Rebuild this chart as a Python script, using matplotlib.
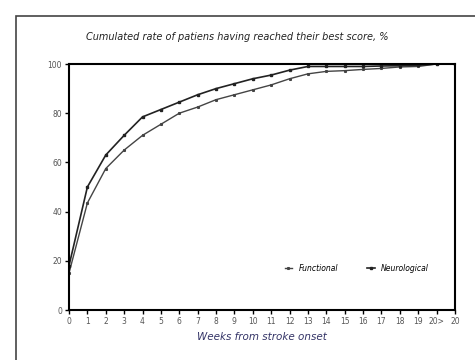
import matplotlib.pyplot as plt
from matplotlib.patches import Rectangle

# weeks from stroke onset (tick positions and labels)
weeks = list(range(22))
week_labels = [str(w) for w in range(20)] + ['20>', '20']

# cumulated rate (%)
neurological = [18, 50, 63, 71, 78.5, 81.5, 84.5, 87.5, 90, 92, 94, 95.5, 97.5, 99, 99, 99, 99, 99.2, 99.3, 99.5, 100, 100]
functional = [15, 43.5, 57.5, 65, 71, 75.5, 80, 82.5, 85.5, 87.5, 89.5, 91.5, 94, 96, 97, 97.3, 97.8, 98.2, 98.8, 99, 100, 100]

plt.rcParams['font.family'] = ['Liberation Sans Narrow', 'DejaVu Sans']

fig = plt.figure(figsize=(4.75, 3.6), dpi=100)
fig.patches.append(Rectangle((16 / 475, -0.05), 1.0, 1 - 16 / 360 + 0.05,
                             transform=fig.transFigure, fill=False,
                             edgecolor='#444444', linewidth=1.2))

ax = fig.add_axes([69 / 475, 50 / 360, 386 / 475, 246 / 360])
ax.plot(weeks, functional, color='#444444', linewidth=1.0,
        marker='s', markersize=1.2, label='Functional')
ax.plot(weeks, neurological, color='#222222', linewidth=1.2,
        marker='s', markersize=1.5, label='Neurological')

ax.set_xlim(0, 21)
ax.set_ylim(0, 100)
ax.set_xticks(weeks)
ax.set_xticklabels(week_labels)
ax.set_yticks([0, 20, 40, 60, 80, 100])
ax.tick_params(direction='out', length=3, width=1, labelsize=5.5,
               labelcolor='#555555', pad=2)
for s in ax.spines.values():
    s.set_linewidth(1.5)

ax.set_xlabel('Weeks from stroke onset', fontsize=7.5, style='italic',
              color='#333366', labelpad=4)
fig.text(0.5, 1 - 37 / 360, 'Cumulated rate of patiens having reached their best score, %',
         ha='center', va='center', fontsize=7, style='italic', color='#222222')

ax.legend(loc='center', bbox_to_anchor=(0.745, 0.17), ncol=2, frameon=False,
          handlelength=1.0, columnspacing=3.8, markerscale=1.0,
          prop={'style': 'italic', 'size': 5.5})

fig.savefig('out.png', dpi=100)
